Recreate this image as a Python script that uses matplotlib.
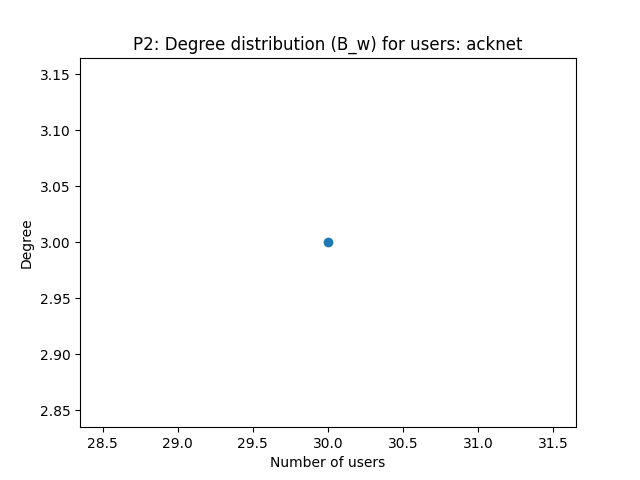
import matplotlib
matplotlib.use('Agg')
import matplotlib.pyplot as plt

num_users = [30]
degree = [3]

fig, ax = plt.subplots(figsize=(6.4, 4.8))
ax.scatter(num_users, degree)
ax.set_xlabel('Number of users')
ax.set_ylabel('Degree')
ax.set_title('P2: Degree distribution (B_w) for users: acknet')
fig.savefig('out.png')
